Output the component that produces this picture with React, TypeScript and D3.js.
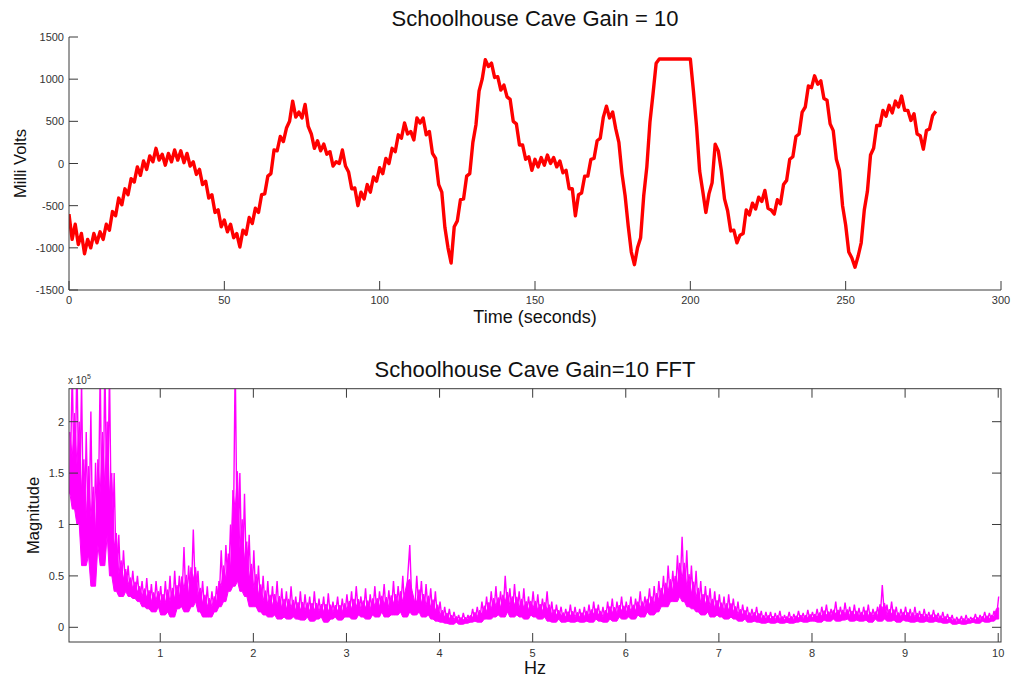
import React, { useEffect } from "react";
import * as d3 from "d3";

// ---------- Top panel: Milli Volts vs time, one value per second (t = 0..279) ----------
const timeStart = 0;
const timeStep = 1;
const milliVolts: number[] = [
  -600, -900, -720, -960, -830, -1070, -900, -1000, -830, -940,
  -810, -900, -720, -790, -570, -620, -410, -490, -300, -370,
  -180, -220, -40, -140, 30, -70, 90, 20, 180, 40,
  110, -20, 120, 20, 160, 40, 150, 10, 120, -30,
  20, -130, -70, -250, -210, -410, -370, -580, -550, -750,
  -670, -810, -720, -880, -830, -990, -790, -840, -640, -710,
  -530, -580, -370, -360, -150, -120, 160, 150, 320, 260,
  420, 500, 740, 550, 610, 540, 700, 440, 350, 180,
  270, 150, 230, 110, 140, -30, 20, 0, 160, -30,
  -100, -300, -290, -500, -340, -420, -250, -340, -160, -210,
  -50, -120, 60, 0, 180, 140, 340, 300, 480, 350,
  380, 280, 540, 480, 540, 340, 380, 120, 60, -250,
  -340, -760, -1000, -1180, -750, -680, -430, -420, -150, -120,
  250, 460, 860, 1000, 1230, 1150, 1190, 1020, 1030, 870,
  930, 790, 760, 500, 470, 220, 220, 50, 80, -80,
  50, -40, 70, -20, 100, 0, 70, -40, 30, -110,
  -80, -300, -300, -620, -370, -350, -150, -150, 50, 60,
  270, 300, 550, 680, 540, 610, 410, 250, -120, -380,
  -740, -1050, -1200, -1000, -880, -380, -40, 490, 830, 1190,
  1240, 1240, 1240, 1240, 1240, 1240, 1240, 1240, 1240, 1240,
  1240, 860, 440, -90, -330, -580, -360, -230, 230, 150,
  -90, -420, -560, -800, -790, -940, -850, -830, -550, -610,
  -470, -540, -400, -450, -320, -530, -550, -600, -430, -480,
  -250, -200, 50, 80, 320, 350, 610, 670, 920, 900,
  1040, 940, 980, 770, 750, 470, 390, 50, -80, -500,
  -730, -1050, -1120, -1230, -1100, -940, -550, -330, 100, 180,
  450, 450, 630, 560, 690, 600, 740, 670, 800, 630,
  630, 510, 590, 350, 330, 170, 390, 410, 570, 620,
];
const timeTicks = [0, 50, 100, 150, 200, 250, 300];
const voltTicks = [-1500, -1000, -500, 0, 500, 1000, 1500];

// ---------- Bottom panel: FFT magnitude (x 10^5), step 0.025 Hz from 0.03 Hz ----------
const freqStart = 0.03;
const freqStep = 0.025;
const fftMagnitude: number[] = [
  1.3, 2.5, 1.15, 2.6, 1.0, 2.4, 0.6, 1.9, 0.7, 2.1, 0.4, 1.6, 0.8, 2.5, 0.6, 2.6, 0.9, 2.5, 0.5, 1.5,
  0.35, 0.9, 0.3, 0.75, 0.35, 0.6, 0.3, 0.55, 0.28, 0.5, 0.25, 0.45, 0.2, 0.48, 0.18, 0.42, 0.15, 0.45, 0.2, 0.4,
  0.12, 0.45, 0.15, 0.5, 0.1, 0.55, 0.18, 0.5, 0.2, 0.78, 0.15, 0.6, 0.2, 0.95, 0.25, 0.55, 0.15, 0.45, 0.1, 0.4,
  0.1, 0.35, 0.15, 0.4, 0.2, 0.75, 0.25, 0.8, 0.35, 1.0, 0.4, 2.6, 0.45, 1.5, 0.35, 1.3, 0.3, 0.9, 0.2, 0.75,
  0.2, 0.6, 0.15, 0.5, 0.12, 0.45, 0.1, 0.4, 0.12, 0.45, 0.08, 0.38, 0.1, 0.35, 0.08, 0.4, 0.1, 0.3, 0.08, 0.35,
  0.07, 0.32, 0.1, 0.3, 0.06, 0.35, 0.08, 0.28, 0.1, 0.3, 0.05, 0.33, 0.08, 0.25, 0.1, 0.3, 0.07, 0.28, 0.1, 0.32,
  0.1, 0.35, 0.08, 0.4, 0.12, 0.3, 0.1, 0.38, 0.08, 0.32, 0.12, 0.4, 0.1, 0.35, 0.15, 0.42, 0.1, 0.36, 0.12, 0.45,
  0.12, 0.4, 0.15, 0.5, 0.1, 0.45, 0.8, 0.15, 0.12, 0.5, 0.15, 0.45, 0.1, 0.42, 0.12, 0.38, 0.08, 0.35, 0.06, 0.25,
  0.05, 0.2, 0.04, 0.18, 0.03, 0.15, 0.05, 0.12, 0.03, 0.14, 0.04, 0.12, 0.05, 0.18, 0.06, 0.2, 0.05, 0.25, 0.08, 0.3,
  0.08, 0.35, 0.1, 0.4, 0.12, 0.35, 0.1, 0.5, 0.15, 0.38, 0.1, 0.42, 0.12, 0.35, 0.1, 0.38, 0.08, 0.3, 0.12, 0.35,
  0.1, 0.32, 0.08, 0.28, 0.1, 0.35, 0.06, 0.25, 0.05, 0.22, 0.08, 0.2, 0.05, 0.18, 0.06, 0.22, 0.05, 0.2, 0.06, 0.18,
  0.05, 0.2, 0.06, 0.22, 0.05, 0.25, 0.08, 0.22, 0.06, 0.2, 0.05, 0.25, 0.08, 0.28, 0.06, 0.25, 0.1, 0.3, 0.08, 0.25,
  0.1, 0.3, 0.08, 0.28, 0.12, 0.35, 0.1, 0.3, 0.15, 0.38, 0.12, 0.4, 0.15, 0.45, 0.2, 0.5, 0.2, 0.6, 0.25, 0.55,
  0.25, 0.7, 0.3, 0.88, 0.25, 0.75, 0.2, 0.6, 0.18, 0.55, 0.15, 0.45, 0.12, 0.4, 0.15, 0.38, 0.1, 0.35, 0.12, 0.32,
  0.1, 0.3, 0.08, 0.32, 0.1, 0.28, 0.08, 0.25, 0.06, 0.22, 0.08, 0.2, 0.05, 0.18, 0.06, 0.2, 0.05, 0.16, 0.04, 0.15,
  0.05, 0.15, 0.04, 0.14, 0.05, 0.16, 0.04, 0.12, 0.05, 0.15, 0.04, 0.13, 0.05, 0.16, 0.06, 0.14, 0.05, 0.17, 0.06, 0.15,
  0.06, 0.18, 0.05, 0.2, 0.07, 0.22, 0.06, 0.18, 0.08, 0.25, 0.06, 0.2, 0.07, 0.24, 0.08, 0.2, 0.06, 0.22, 0.07, 0.19,
  0.06, 0.2, 0.07, 0.22, 0.05, 0.18, 0.08, 0.2, 0.06, 0.41, 0.08, 0.22, 0.06, 0.25, 0.07, 0.2, 0.05, 0.18, 0.07, 0.2,
  0.06, 0.18, 0.05, 0.2, 0.06, 0.16, 0.05, 0.18, 0.06, 0.15, 0.05, 0.17, 0.06, 0.14, 0.05, 0.15, 0.04, 0.13, 0.05, 0.12,
  0.03, 0.1, 0.04, 0.11, 0.03, 0.12, 0.04, 0.1, 0.05, 0.13, 0.04, 0.12, 0.06, 0.15, 0.05, 0.14, 0.06, 0.16, 0.08, 0.3,
];
const freqTicks = [1, 2, 3, 4, 5, 6, 7, 8, 9, 10];
const magTicks = [0, 0.5, 1, 1.5, 2];

const FONT = "'Liberation Sans', Arial, Helvetica, sans-serif";
const AXIS = "#3a3a3a";
const TICKTXT = "#333";

export default function App() {
  useEffect(() => {
    document.body.style.margin = "0";
  }, []);

  const W = 1013;
  const H = 678;
  const L = 69;
  const R = 1001;

  // top panel
  const tT = 37, tB = 290;
  const xT = d3.scaleLinear().domain([0, 300]).range([L, R]);
  const yT = d3.scaleLinear().domain([-1500, 1500]).range([tB, tT]);
  const voltLine = d3
    .line<number>()
    .x((_, i) => xT(timeStart + i * timeStep))
    .y((d) => yT(d));

  // bottom panel
  const bT = 388.7, bB = 642;
  const xB = d3.scaleLinear().domain([0.02, 10.03]).range([L, R]);
  const yB = d3.scaleLinear().domain([-0.143, 2.321]).range([bB, bT]);
  const fftLine = d3
    .line<number>()
    .x((_, i) => xB(freqStart + i * freqStep))
    .y((d) => yB(d));
  // dense core of the spectrum: local minimum up to local mean of neighbouring samples
  const win = (i: number) => fftMagnitude.slice(Math.max(0, i - 1), Math.min(fftMagnitude.length, i + 2));
  const fftCore = d3
    .area<number>()
    .x((_, i) => xB(freqStart + i * freqStep))
    .y0((_, i) => yB(d3.min(win(i)) as number))
    .y1((_, i) => yB(d3.mean(win(i)) as number));

  const tick = 9;

  return (
    <div style={{ position: "fixed", left: 0, top: 0 }}>
      <svg width={W} height={H} style={{ display: "block", background: "#fff" }} fontFamily={FONT}>
        <defs>
          <clipPath id="clipTop">
            <rect x={L} y={tT} width={R - L} height={tB - tT} />
          </clipPath>
          <clipPath id="clipBot">
            <rect x={L} y={bT} width={R - L} height={bB - bT} />
          </clipPath>
        </defs>

        {/* ---------------- TOP PANEL ---------------- */}
        <text x={(L + R) / 2} y={26} textAnchor="middle" fontSize={22} fill="#111">
          Schoolhouse Cave Gain = 10
        </text>
        <g clipPath="url(#clipTop)">
          <path d={voltLine(milliVolts) || ""} fill="none" stroke="#ff0000" strokeWidth={3.4} strokeLinejoin="round" />
        </g>
        {/* axes lines */}
        <line x1={L} y1={tT} x2={L} y2={tB} stroke={AXIS} strokeWidth={1} />
        <line x1={L} y1={tB} x2={R} y2={tB} stroke={AXIS} strokeWidth={1} />
        {voltTicks.map((v) => (
          <g key={"vt" + v}>
            <line x1={L} x2={L + tick} y1={yT(v)} y2={yT(v)} stroke={AXIS} />
            <text x={L - 5} y={yT(v) + 4} textAnchor="end" fontSize={11} fill={TICKTXT}>
              {v}
            </text>
          </g>
        ))}
        {timeTicks.map((t) => (
          <g key={"tt" + t}>
            <line x1={xT(t)} x2={xT(t)} y1={tB} y2={tB - tick} stroke={AXIS} />
            <text x={xT(t)} y={tB + 14} textAnchor="middle" fontSize={11} fill={TICKTXT}>
              {t}
            </text>
          </g>
        ))}
        <text x={(L + R) / 2} y={323} textAnchor="middle" fontSize={18} fill="#111">
          Time (seconds)
        </text>
        <text
          transform={`translate(26, ${(tT + tB) / 2}) rotate(-90)`}
          textAnchor="middle"
          fontSize={16.5}
          fill="#111"
        >
          Milli Volts
        </text>

        {/* ---------------- BOTTOM PANEL ---------------- */}
        <text x={(L + R) / 2} y={377} textAnchor="middle" fontSize={22} fill="#111">
          Schoolhouse Cave Gain=10 FFT
        </text>
        <g clipPath="url(#clipBot)">
          <path d={fftCore(fftMagnitude) || ""} fill="#ff00ff" stroke="#ff00ff" strokeWidth={1} />
          <path d={fftLine(fftMagnitude) || ""} fill="none" stroke="#ff00ff" strokeWidth={1.4} strokeLinejoin="bevel" />
        </g>
        <rect x={L} y={bT} width={R - L} height={bB - bT} fill="none" stroke={AXIS} strokeWidth={1} />
        {magTicks.map((m) => (
          <g key={"mt" + m}>
            <line x1={L} x2={L + tick} y1={yB(m)} y2={yB(m)} stroke={AXIS} />
            <line x1={R} x2={R - tick} y1={yB(m)} y2={yB(m)} stroke={AXIS} />
            <text x={L - 5} y={yB(m) + 4} textAnchor="end" fontSize={11} fill={TICKTXT}>
              {m}
            </text>
          </g>
        ))}
        {freqTicks.map((f) => (
          <g key={"ft" + f}>
            <line x1={xB(f)} x2={xB(f)} y1={bB} y2={bB - tick} stroke={AXIS} />
            <line x1={xB(f)} x2={xB(f)} y1={bT} y2={bT + tick} stroke={AXIS} />
            <text x={xB(f)} y={bB + 15} textAnchor="middle" fontSize={11} fill={TICKTXT}>
              {f}
            </text>
          </g>
        ))}
        <text x={68} y={384} fontSize={10} fill={TICKTXT}>
          x 10
          <tspan dy={-5} fontSize={7}>
            5
          </tspan>
        </text>
        <text x={(L + R) / 2} y={674} textAnchor="middle" fontSize={18} fill="#111">
          Hz
        </text>
        <text
          transform={`translate(39, ${(bT + bB) / 2}) rotate(-90)`}
          textAnchor="middle"
          fontSize={16.5}
          fill="#111"
        >
          Magnitude
        </text>
      </svg>
    </div>
  );
}
